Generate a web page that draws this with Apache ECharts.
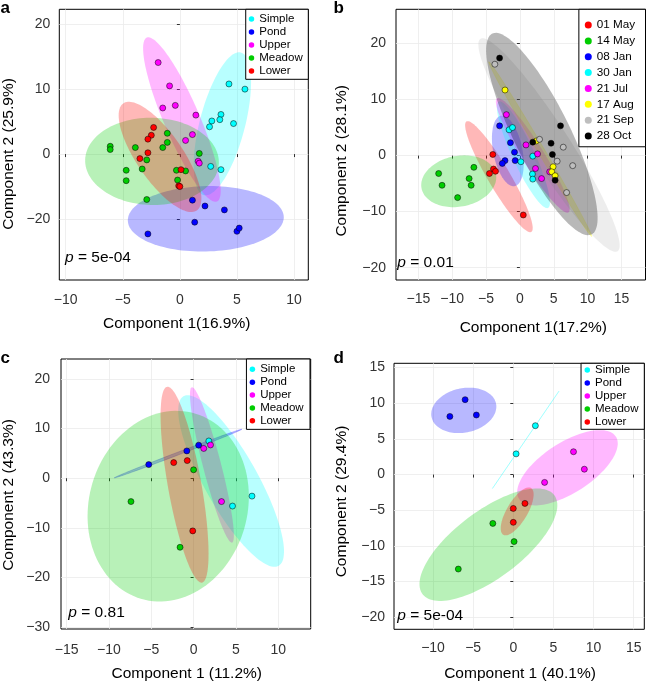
<!DOCTYPE html>
<html>
<head>
<meta charset="utf-8">
<script src="https://cdn.jsdelivr.net/npm/echarts@6/dist/echarts.min.js"></script>
<style>
  html, body { margin: 0; padding: 0; background: #fff; }
  #chart { width: 646px; height: 685px; }
</style>
</head>
<body>
<div id="chart"></div>
<script>
// ---- data ----
var siteNames = ['Simple', 'Pond', 'Upper', 'Meadow', 'Lower'];
var siteColors = ['#00FFFF', '#0000FF', '#FF00FF', '#00CD00', '#FF0000'];
var dateNames = ['01 May', '14 May', '08 Jan', '30 Jan', '21 Jul', '17 Aug', '21 Sep', '28 Oct'];
var dateColors = ['#FF0000', '#00CD00', '#0000FF', '#00FFFF', '#FF00FF', '#FFFF00', '#BEBEBE', '#000000'];

// panel a
var aSimple = [[4.3, 10.8], [5.7, 10.0], [3.6, 6.1], [3.5, 5.3], [2.8, 5.1], [2.6, 4.2], [4.7, 4.7], [2.7, -1.9], [3.6, -2.4]];
var aPond = [[1.1, -7.1], [2.2, -8.0], [3.9, -8.6], [1.3, -10.5], [5.0, -11.9], [5.2, -11.4], [-2.8, -12.3]];
var aUpper = [[-1.9, 14.1], [-0.9, 10.5], [-0.4, 7.5], [-1.5, 7.1], [1.4, 6.0], [1.1, 3.0], [0.5, 2.1], [1.6, -1.1], [1.7, -1.4]];
var aMeadow = [[-6.1, 1.2], [-6.1, 0.7], [-3.9, 1.0], [-1.1, 3.2], [-1.1, 1.8], [-1.5, 1.0], [1.7, 0.1], [-2.9, -0.9],
  [-3.3, -2.3], [-4.7, -2.5], [-4.7, -4.1], [-0.3, -2.5], [0.5, -2.6], [-0.2, -4.0], [-2.9, -7.0]];
var aLower = [[-2.3, 4.1], [-2.5, 2.9], [-2.8, 2.3], [-2.8, 0.2], [-3.5, -0.7], [0.1, -2.4], [-0.1, -4.9], [0.0, -5.0]];

// panel b
var bMay01 = [[-4.0, 0.2], [-3.9, -2.4], [-3.6, -2.8], [-4.5, -3.2], [0.5, -10.6]];
var bMay14 = [[-12.0, -3.2], [-11.5, -5.3], [-7.5, -4.1], [-6.8, -2.1], [-7.2, -5.3], [-9.2, -7.5]];
var bJan08 = [[-3.0, 5.3], [-1.4, 2.3], [-0.8, 0.6], [-0.7, -0.9], [-2.2, -0.9], [-2.6, -1.4]];
var bJan30 = [[-1.6, 4.6], [-1.1, 5.0], [0.15, -1.1], [1.9, -0.1], [1.85, -3.3], [1.9, -4.2]];
var bJul21 = [[-2.0, 7.3], [0.9, 1.9], [2.6, 0.3], [2.3, -2.3], [3.2, -4.1], [4.4, -2.9]];
var bAug17 = [[-2.2, 11.7], [2.4, 2.6], [4.9, -2.0], [4.7, -2.9], [5.2, -3.6]];
var bSep21 = [[-3.7, 16.3], [2.9, 2.9], [6.4, 1.5], [5.5, -1.0], [7.8, -1.8], [6.9, -6.6]];
var bOct28 = [[-3.0, 17.4], [6.0, 5.3], [1.9, 2.4], [4.6, 2.2], [4.8, 0.2], [5.2, -4.4]];

// panel c
var cSimple = [[1.8, 7.5], [6.9, -3.6], [4.6, -5.6]];
var cPond = [[-5.3, 2.75], [-0.8, 5.5], [0.6, 6.65]];
var cUpper = [[1.2, 6.0], [2.0, 6.7], [3.3, -4.7]];
var cMeadow = [[-7.4, -4.7], [0.0, 1.7], [-1.6, -13.9]];
var cLower = [[-2.35, 3.15], [-0.75, 3.55], [-0.1, -10.6]];

// panel d
var dSimple = [[0.35, 2.9], [2.75, 6.85]];
var dPond = [[-7.9, 8.15], [-6.0, 10.5], [-4.6, 8.35]];
var dUpper = [[7.5, 3.2], [8.85, 0.75], [3.9, -1.1]];
var dMeadow = [[-2.55, -6.85], [0.1, -9.4], [-6.85, -13.25]];
var dLower = [[1.45, -4.05], [0.0, -4.75], [0.0, -6.7]];

// tick values / labels
var aXTicks = [-10, -5, 0, 5, 10];
var aYTicks = [-10, 0, 10, 20];
var aYLabels = ['\u221220', '0', '10', '20'];
var bXTicks = [-15, -10, -5, 0, 5, 10, 15];
var bYTicks = [-20, -10, 0, 10, 20];
var cXTicks = [-15, -10, -5, 0, 5, 10];
var cYTicks = [-30, -20, -10, 0, 10, 20];
var dXTicks = [-10, -5, 0, 5, 10, 15];
var dYTicks = [-20, -15, -10, -5, 0, 5, 10, 15];

var xTitles = ['Component 1(16.9%)', 'Component 1(17.2%)', 'Component 1 (11.2%)', 'Component 1 (40.1%)'];
var yTitles = ['Component 2 (25.9%)', 'Component 2 (28.1%)', 'Component 2 (43.3%)', 'Component 2 (29.4%)'];
var pValues = ['5e-04', '0.01', '0.81', '5e-04'];
var letters = ['a', 'b', 'c', 'd'];

// ---- layout ----
var FONT = 'Liberation Sans, Arial, Helvetica, sans-serif';
var R95 = Math.sqrt(5.991465); // sqrt(qchisq(0.95, 2))

var panels = [
  { names: siteNames, colors: siteColors, groups: [aSimple, aPond, aUpper, aMeadow, aLower],
    grid: { left: 59.3, top: 9.3, width: 249, height: 270.7 },
    x: [-10.56, 11.25], y: [-19.4, 22.3], xi: 5, yi: 10, xt: aXTicks, yt: aYTicks, xm: 13, ym: 9,
    legend: { right: 337.7, top: 9.3, padding: [3.2, 5.6, 1.8, 3], lh: 13, icon: 5.5, fs: 11.5 },
    letter: [0.5, 8], p: [65, 258], xt0: [176.7, 323.3], yt0: [8.3, 154] },
  { names: dateNames, colors: dateColors, groups: [bMay01, bMay14, bJan08, bJan30, bJul21, bAug17, bSep21, bOct28],
    grid: { left: 396, top: 9.3, width: 249.5, height: 270.7 },
    x: [-18.3, 18.55], y: [-22.2, 26.1], xi: 5, yi: 10, xt: bXTicks, yt: bYTicks, xm: 12, ym: 10,
    legend: { right: 0.5, top: 9.3, padding: [7.8, 10.4, 2.8, 5.9], lh: 15.86, icon: 7, fs: 11.7 },
    letter: [333.5, 8], p: [397.3, 263], xt0: [533.3, 327.5], yt0: [341.3, 160.8] },
  { names: siteNames, colors: siteColors, groups: [cSimple, cPond, cUpper, cMeadow, cLower],
    grid: { left: 61, top: 359, width: 249.7, height: 270 },
    x: [-15.67, 13.84], y: [-30.35, 24.0], xi: 5, yi: 10, xt: cXTicks, yt: cYTicks, xm: 14, ym: 11,
    legend: { right: 336, top: 359, padding: [3.9, 6.4, 2.2, 3.2], lh: 12.85, icon: 5.5, fs: 11.5 },
    letter: [0.5, 358.5], p: [68.3, 613], xt0: [186.7, 673.3], yt0: [8.8, 495] },
  { names: siteNames, colors: siteColors, groups: [dSimple, dPond, dUpper, dMeadow, dLower],
    grid: { left: 394, top: 363.3, width: 250.3, height: 266 },
    x: [-14.86, 16.32], y: [-21.7, 15.6], xi: 5, yi: 5, xt: dXTicks, yt: dYTicks, xm: 12, ym: 9,
    legend: { right: 1.7, top: 363.3, padding: [0.2, 5.8, 0.8, 3.5], lh: 13, icon: 5.5, fs: 11.5 },
    letter: [333.5, 358.5], p: [397.3, 616], xt0: [520, 673.3], yt0: [341.3, 501.5] }
];

function rgba(hex, a) {
  var n = parseInt(hex.slice(1), 16);
  return 'rgba(' + (n >> 16 & 255) + ',' + (n >> 8 & 255) + ',' + (n & 255) + ',' + a + ')';
}

// normal-theory 95% ellipse from sample covariance
function ellipseOf(pts) {
  var n = pts.length, mx = 0, my = 0;
  pts.forEach(function (p) { mx += p[0]; my += p[1]; });
  mx /= n; my /= n;
  var sxx = 0, syy = 0, sxy = 0;
  pts.forEach(function (p) {
    var dx = p[0] - mx, dy = p[1] - my;
    sxx += dx * dx; syy += dy * dy; sxy += dx * dy;
  });
  sxx /= (n - 1); syy /= (n - 1); sxy /= (n - 1);
  var tr = sxx + syy, det = sxx * syy - sxy * sxy;
  var disc = Math.sqrt(Math.max(tr * tr / 4 - det, 0));
  var l1 = tr / 2 + disc, l2 = Math.max(tr / 2 - disc, 0);
  var ang;
  if (Math.abs(sxy) < 1e-12) ang = sxx >= syy ? 0 : Math.PI / 2;
  else ang = Math.atan2(l1 - sxx, sxy);
  return { cx: mx, cy: my, a: R95 * Math.sqrt(l1), b: R95 * Math.sqrt(l2), ang: ang };
}

function minus(v) { return String(v).replace('-', '\u2212'); }

var grids = [], xAxes = [], yAxes = [], series = [], legends = [], graphics = [];

panels.forEach(function (pn, i) {
  grids.push(Object.assign({ show: true, borderColor: '#000', borderWidth: 1, backgroundColor: '#fff' }, pn.grid));

  var labelStyle = { fontSize: 14, color: '#333', fontFamily: FONT };
  xAxes.push({
    type: 'value', gridIndex: i, min: pn.x[0], max: pn.x[1], minInterval: pn.xi, maxInterval: pn.xi,
    axisLine: { show: false },
    axisTick: { show: true, inside: false, length: 3, lineStyle: { color: '#333', width: 1 }, customValues: pn.xt },
    axisLabel: Object.assign({ customValues: pn.xt, margin: pn.xm, formatter: minus }, labelStyle),
    splitLine: { show: true, lineStyle: { color: '#ebebeb', width: 0.8 } }
  });
  yAxes.push({
    type: 'value', gridIndex: i, min: pn.y[0], max: pn.y[1], minInterval: pn.yi, maxInterval: pn.yi,
    axisLine: { show: false },
    axisTick: { show: true, inside: false, length: 3, lineStyle: { color: '#333', width: 1 }, customValues: pn.yt },
    axisLabel: Object.assign({
      customValues: pn.yt, margin: pn.ym,
      formatter: i === 0 ? function (v) { var k = aYTicks.indexOf(v); return k >= 0 ? aYLabels[k] : ''; } : minus
    }, labelStyle),
    splitLine: { show: true, lineStyle: { color: '#ebebeb', width: 0.8 } }
  });

  var ells = pn.groups.map(ellipseOf);
  series.push({
    type: 'custom', xAxisIndex: i, yAxisIndex: i, clip: true, silent: true, z: 1,
    data: ells.map(function (e, k) { return [e.cx, e.cy, k]; }),
    encode: { x: 0, y: 1 },
    renderItem: function (params, api) {
      var k = api.value(2), e = ells[k];
      var ca = Math.cos(e.ang), sa = Math.sin(e.ang), pts = [];
      for (var s = 0; s < 120; s++) {
        var t = s / 120 * Math.PI * 2;
        var u = e.a * Math.cos(t), w = e.b * Math.sin(t);
        pts.push(api.coord([e.cx + u * ca - w * sa, e.cy + u * sa + w * ca]));
      }
      var thin = e.b < e.a * 0.05;
      return {
        type: 'polygon', shape: { points: pts },
        style: { fill: rgba(pn.colors[k], 0.28), stroke: thin ? rgba(pn.colors[k], 0.35) : null, lineWidth: thin ? 0.6 : 0 }
      };
    }
  });

  pn.groups.forEach(function (g, k) {
    series.push({
      type: 'scatter', name: pn.names[k], xAxisIndex: i, yAxisIndex: i, z: 3,
      data: g, symbol: 'circle', symbolSize: 6,
      itemStyle: { color: pn.colors[k], borderColor: '#000', borderWidth: 0.5, opacity: 1 },
      emphasis: { disabled: true }
    });
  });

  var L = pn.legend;
  legends.push({
    orient: 'vertical', right: L.right, top: L.top, padding: L.padding, itemGap: 0,
    itemWidth: L.icon, itemHeight: L.icon, icon: 'circle', selectedMode: false,
    data: pn.names, borderColor: '#000', borderWidth: 1, backgroundColor: '#fff',
    itemStyle: { borderWidth: 0 },
    textStyle: { fontSize: L.fs, lineHeight: L.lh, color: '#000', fontFamily: FONT }
  });

  graphics.push(
    { type: 'text', x: pn.letter[0], y: pn.letter[1],
      style: { text: letters[i], font: 'bold 17px ' + FONT, fill: '#000', align: 'left', verticalAlign: 'middle' } },
    { type: 'text', x: pn.p[0], y: pn.p[1], z: 10,
      style: { text: '{i|p} = ' + pValues[i], fontSize: 15.5, fontFamily: FONT, fill: '#000', align: 'left', verticalAlign: 'middle',
        rich: { i: { fontStyle: 'italic', fontSize: 15.5, fontFamily: FONT, fill: '#000' } } } },
    { type: 'text', x: pn.xt0[0], y: pn.xt0[1],
      style: { text: xTitles[i], fontSize: 15.5, fontFamily: FONT, fill: '#000', align: 'center', verticalAlign: 'middle' } },
    { type: 'text', x: pn.yt0[0], y: pn.yt0[1], rotation: Math.PI / 2,
      style: { text: yTitles[i], fontSize: 15.5, fontFamily: FONT, fill: '#000', align: 'center', verticalAlign: 'middle' } }
  );
});

var chart = echarts.init(document.getElementById('chart'), null, { renderer: 'canvas' });
chart.setOption({
  animation: false,
  backgroundColor: '#fff',
  grid: grids,
  xAxis: xAxes,
  yAxis: yAxes,
  legend: legends,
  series: series,
  graphic: graphics
});
</script>
</body>
</html>
